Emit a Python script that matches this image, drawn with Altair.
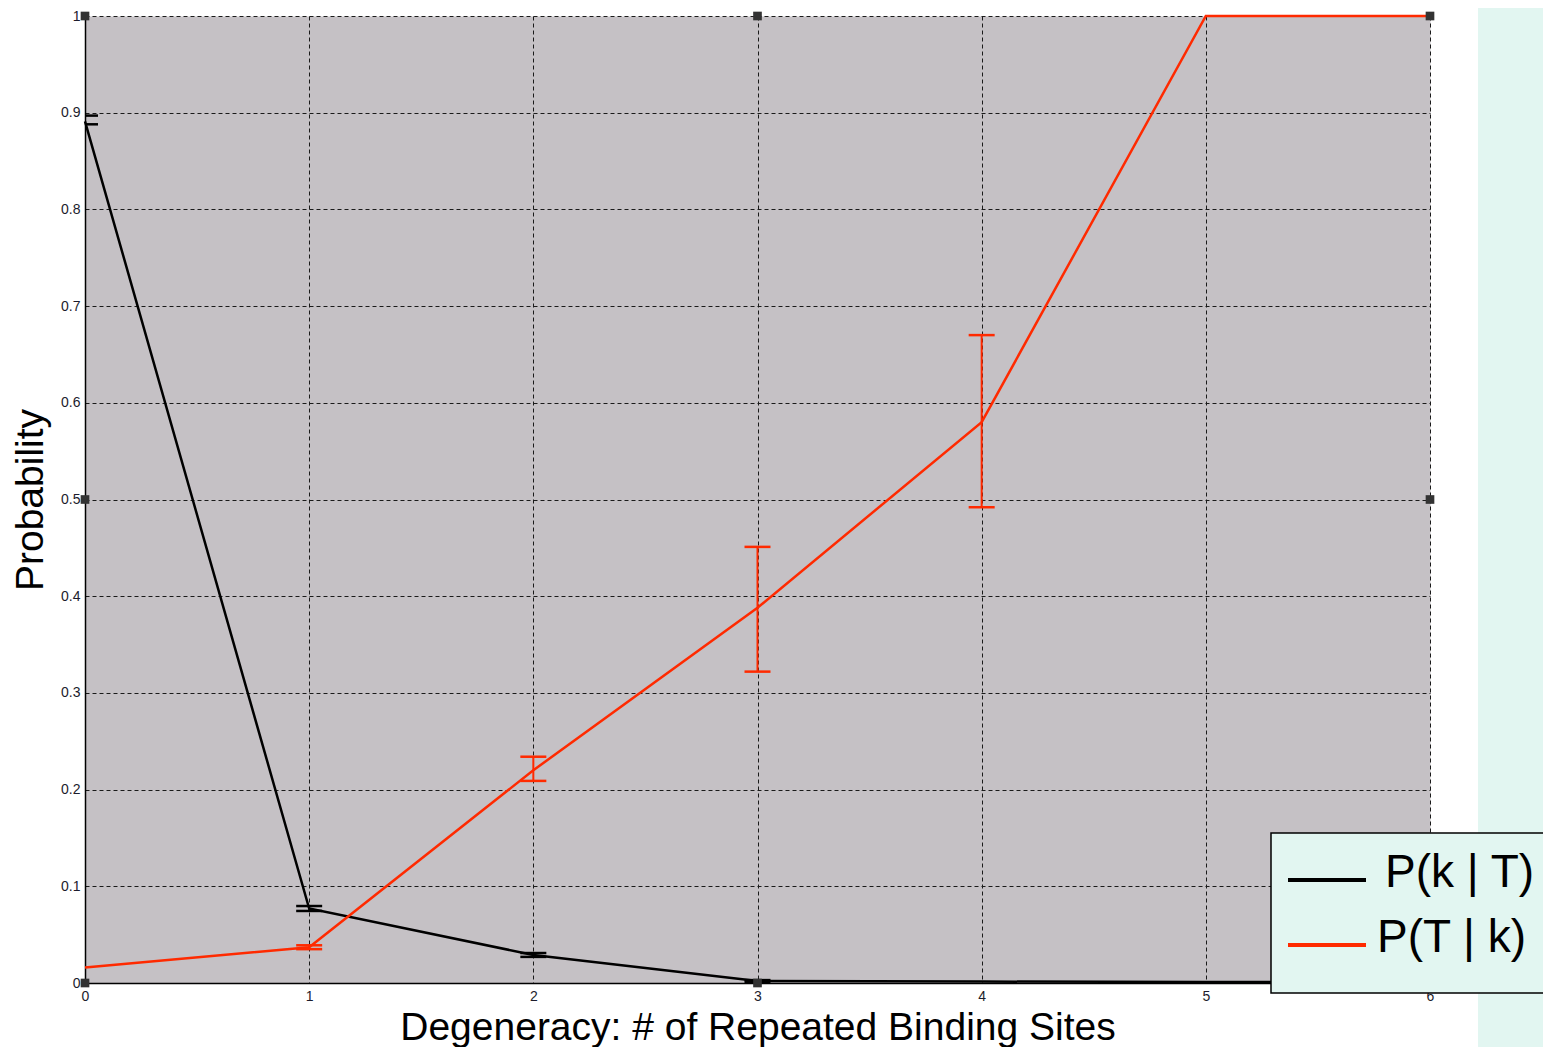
import altair as alt
import pandas as pd

# ---- data ----
degeneracy = [0, 1, 2, 3, 4, 5, 6]
p_k_given_T = [0.891, 0.077, 0.029, 0.002, 0.0015, 0.001, 0.001]
p_k_given_T_lo = [0.888, 0.0745, 0.027, 0.001, 0.0015, 0.001, 0.001]
p_k_given_T_hi = [0.897, 0.0796, 0.031, 0.003, 0.0015, 0.001, 0.001]
p_T_given_k = [0.016, 0.037, 0.220, 0.388, 0.580, 1.0, 1.0]
p_T_given_k_lo = [0.016, 0.035, 0.209, 0.322, 0.492, 1.0, 1.0]
p_T_given_k_hi = [0.016, 0.039, 0.234, 0.451, 0.670, 1.0, 1.0]
series_names = ["P(k | T)", "P(T | k)"]
series_colors = ["#000000", "#ff2a00"]
x_ticks = [0, 1, 2, 3, 4, 5, 6]
y_ticks = [0, 0.1, 0.2, 0.3, 0.4, 0.5, 0.6, 0.7, 0.8, 0.9, 1]
handle_x = [0, 3, 6, 0, 6, 0, 3, 6]
handle_y = [0, 0, 0, 0.5, 0.5, 1, 1, 1]

W, H = 1345, 967
FONT = "Liberation Sans"

rows = []
err_rows = []
for name, ys, los, his in [
    (series_names[0], p_k_given_T, p_k_given_T_lo, p_k_given_T_hi),
    (series_names[1], p_T_given_k, p_T_given_k_lo, p_T_given_k_hi),
]:
    for x, y, lo, hi in zip(degeneracy, ys, los, his):
        rows.append({"x": x, "y": y, "series": name})
        if hi > lo:
            err_rows.append({"x": x, "lo": lo, "hi": hi, "series": name})
df = pd.DataFrame(rows)
df_err = pd.DataFrame(err_rows)
df_handles = pd.DataFrame({"x": handle_x, "y": handle_y})

xscale = alt.Scale(domain=[0, 6], nice=False, zero=False)
yscale = alt.Scale(domain=[0, 1], nice=False)
cscale = alt.Scale(domain=series_names, range=series_colors)

xaxis = alt.Axis(
    values=x_ticks, format="d", grid=True, gridDash=[4, 3], gridColor="#1a1a1a",
    gridWidth=1, ticks=False, domainColor="#000000", domainWidth=1.5,
    labelFontSize=14, labelColor="#1c1c2c", labelFont=FONT, labelPadding=6,
    labelFlush=False,
    title="Degeneracy: # of Repeated Binding Sites", titleFontSize=39,
    titleFont=FONT, titleFontWeight="normal", titleColor="#000000",
    titleBaseline="alphabetic", titleY=56, titleX=W / 2, titleAlign="center",
)
yaxis = alt.Axis(
    values=y_ticks, format="~g", grid=True, gridDash=[4, 3], gridColor="#1a1a1a",
    gridWidth=1, ticks=False, domainColor="#000000", domainWidth=1.5,
    labelFontSize=14, labelColor="#1c1c2c", labelFont=FONT, labelPadding=5,
    labelFlush=False,
    title="Probability", titleFontSize=39, titleFont=FONT,
    titleFontWeight="normal", titleColor="#000000", titleAngle=270,
    titleBaseline="alphabetic", titleX=-43, titleY=H / 2, titleAlign="center",
)

base = alt.Chart(df)
lines = base.mark_line(strokeWidth=2.5, clip=False).encode(
    x=alt.X("x:Q", scale=xscale, axis=xaxis),
    y=alt.Y("y:Q", scale=yscale, axis=yaxis),
    color=alt.Color("series:N", scale=cscale, legend=None),
    detail="series:N",
)

err = alt.Chart(df_err)
err_v = err.mark_rule(strokeWidth=2, clip=True).encode(
    x=alt.X("x:Q", scale=xscale), y=alt.Y("lo:Q", scale=yscale), y2="hi:Q",
    color=alt.Color("series:N", scale=cscale, legend=None),
)
cap_lo = err.mark_tick(orient="horizontal", size=26, thickness=2.5, clip=True, opacity=1).encode(
    x=alt.X("x:Q", scale=xscale), y=alt.Y("lo:Q", scale=yscale),
    color=alt.Color("series:N", scale=cscale, legend=None),
)
cap_hi = err.mark_tick(orient="horizontal", size=26, thickness=2.5, clip=True, opacity=1).encode(
    x=alt.X("x:Q", scale=xscale), y=alt.Y("hi:Q", scale=yscale),
    color=alt.Color("series:N", scale=cscale, legend=None),
)

handles = alt.Chart(df_handles).mark_square(size=75, color="#333333", opacity=1, clip=False).encode(
    x=alt.X("x:Q", scale=xscale), y=alt.Y("y:Q", scale=yscale),
)

one = pd.DataFrame({"k": [0]})
cyan_strip = alt.Chart(one).mark_rect(color="#e2f6f1").encode(
    x=alt.value(1393), x2=alt.value(1470), y=alt.value(-20), y2=alt.value(1100)
)
legend_box = alt.Chart(one).mark_rect(fill="#e2f6f1", stroke="#000000", strokeWidth=1.5).encode(
    x=alt.value(1186), x2=alt.value(1490), y=alt.value(817), y2=alt.value(977)
)
leg_line1 = alt.Chart(one).mark_rule(color=series_colors[0], strokeWidth=4).encode(
    x=alt.value(1203), x2=alt.value(1281), y=alt.value(864)
)
leg_line2 = alt.Chart(one).mark_rule(color=series_colors[1], strokeWidth=4).encode(
    x=alt.value(1203), x2=alt.value(1281), y=alt.value(929)
)
leg_text1 = alt.Chart(one).mark_text(align="left", baseline="alphabetic", fontSize=46, font=FONT, color="#000000").encode(
    x=alt.value(1300), y=alt.value(871), text=alt.value(series_names[0])
)
leg_text2 = alt.Chart(one).mark_text(align="left", baseline="alphabetic", fontSize=46, font=FONT, color="#000000").encode(
    x=alt.value(1292), y=alt.value(936), text=alt.value(series_names[1])
)

chart = alt.layer(
    cyan_strip, lines, err_v, cap_lo, cap_hi, handles,
    legend_box, leg_line1, leg_line2, leg_text1, leg_text2,
).properties(
    width=W, height=H,
    autosize=alt.AutoSizeParams(type="none"),
    padding={"left": 77, "top": 8, "right": 113, "bottom": 64},
    background="white",
).configure_view(fill="#c5c1c5", stroke="transparent")

chart.save("out.html", embed_options={"renderer": "svg", "actions": False})
